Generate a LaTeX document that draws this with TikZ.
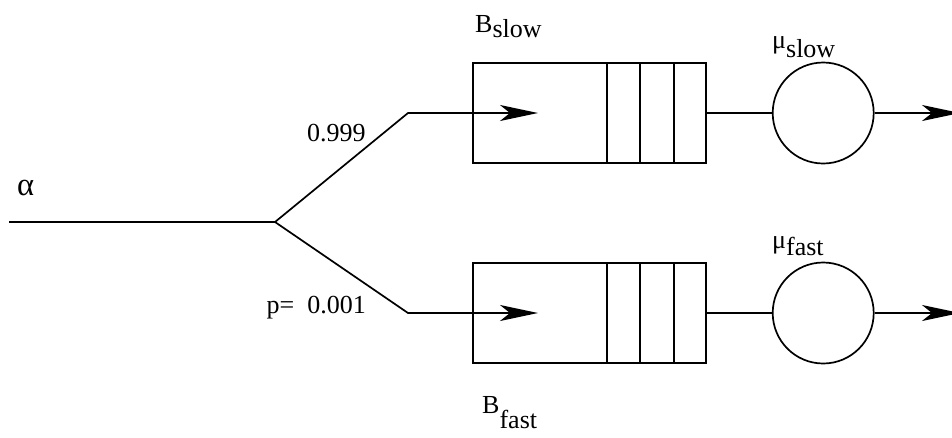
\documentclass[tikz,border=0pt]{standalone}
\usepackage{fontspec}
\setmainfont{Liberation Serif}
\usetikzlibrary{arrows.meta,positioning}

\tikzset{
  flow/.style={line width=1.7pt},
  jobarrow/.style={-{Stealth[length=38pt,width=16pt,inset=10pt]}},
  queue/.style={draw, line width=1.7pt, minimum width=233pt, minimum height=100pt, inner sep=0pt},
  server/.style={draw, circle, line width=1.7pt, minimum size=101pt, inner sep=0pt},
  lbl/.style={inner sep=0pt, font=\fontsize{26}{30}\selectfont}
}

\begin{document}
\begin{tikzpicture}[x=1pt, y=-1pt]
  \useasboundingbox (0,0) rectangle (952,437);
  \clip (0,0) rectangle (952,437);

  \coordinate (in) at (9,222);
  \coordinate (fork) at (275,222);
  \coordinate (bslow) at (408,113);
  \coordinate (bfast) at (408,313);

  \node[queue] (qslow) at (589.5,113) {};
  \node[queue] (qfast) at (589.5,313) {};
  \node[server, right=65pt of qslow] (sslow) {};
  \node[server, right=65pt of qfast] (sfast) {};

  \coordinate (aslow) at (538,113);
  \coordinate (afast) at (538,313);
  \coordinate (oslow) at (960,113);
  \coordinate (ofast) at (960,313);

  % buffer slots
  \foreach \q in {qslow,qfast}
    \foreach \d in {33,67,100}
      \draw[flow] ([xshift=-\d pt]\q.north east) -- ([xshift=-\d pt]\q.south east);

  \draw[flow] (in) -- (fork);
  \draw[flow, jobarrow] (fork) -- (bslow) -- (aslow);
  \draw[flow, jobarrow] (fork) -- (bfast) -- (afast);
  \draw[flow] (qslow.east) -- (sslow.west);
  \draw[flow] (qfast.east) -- (sfast.west);
  \draw[flow, jobarrow] (sslow.east) -- (oslow);
  \draw[flow, jobarrow] (sfast.east) -- (ofast);

  \node[lbl, anchor=base west] (alpha) at (17,195) {\scalebox{1.25}{α}};
  \node[lbl, anchor=base west] (pslow) at (307,141) {0.999};
  \node[lbl, anchor=base east] (pfast) at (366,313) {p=\enspace0.001};
  \node[lbl, anchor=base west] (Bslow) at (475,32) {B\raisebox{-5pt}{slow}};
  \node[lbl, anchor=base west] (Bfast) at (482,413) {B\raisebox{-15pt}{fast}};
  \node[lbl, anchor=base west] (muslow) at (772,48) {μ\raisebox{-9pt}{slow}};
  \node[lbl, anchor=base west] (mufast) at (772,248) {μ\raisebox{-7pt}{fast}};
\end{tikzpicture}
\end{document}
